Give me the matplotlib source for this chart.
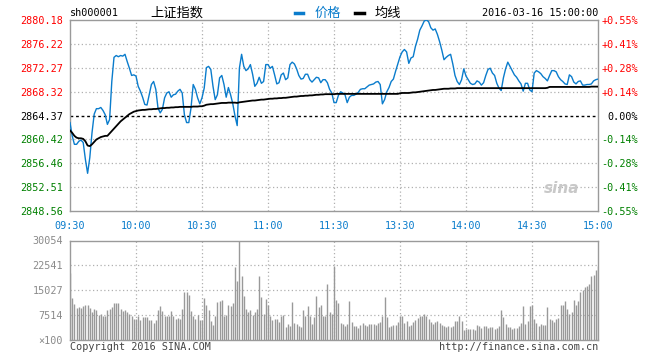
import matplotlib
matplotlib.use("Agg")
import matplotlib.pyplot as plt

# minute index 0..240 (09:30-11:30, 13:00-15:00)
price = [
    2863.2, 2861.0, 2859.6, 2859.6, 2860.1, 2860.3, 2859.9, 2857.1, 2854.8, 2857.4,
    2861.5, 2864.6, 2865.5, 2865.5, 2865.7, 2865.2, 2864.5, 2862.9, 2863.7, 2870.0,
    2874.0, 2874.3, 2874.1, 2874.3, 2874.2, 2874.5, 2873.3, 2872.2, 2871.0, 2871.1,
    2870.9, 2869.2, 2868.4, 2867.4, 2866.2, 2866.1, 2867.8, 2869.5, 2870.0, 2868.7,
    2865.6, 2864.8, 2865.4, 2867.3, 2868.1, 2868.3, 2867.4, 2867.8, 2867.9, 2868.4,
    2868.7, 2868.1, 2864.5, 2863.2, 2863.2, 2865.6, 2869.5, 2868.7, 2867.3, 2866.3,
    2867.3, 2868.9, 2872.3, 2872.5, 2872.0, 2869.2, 2867.0, 2867.8, 2870.6, 2871.0,
    2869.5, 2867.4, 2869.0, 2867.8, 2866.3, 2864.3, 2862.7, 2872.2, 2874.5, 2872.5,
    2871.8, 2872.1, 2872.8, 2871.2, 2869.2, 2869.7, 2870.7, 2869.7, 2870.0, 2872.8,
    2872.8, 2872.2, 2872.5, 2871.1, 2869.6, 2869.8, 2871.1, 2871.4, 2870.3, 2870.6,
    2872.8, 2873.2, 2872.9, 2872.1, 2871.0, 2870.4, 2870.5, 2871.2, 2871.2, 2870.3,
    2869.9, 2870.3, 2870.7, 2870.6, 2869.8, 2870.3, 2870.3, 2869.8, 2868.7, 2868.1,
    2866.5, 2866.5, 2867.7, 2868.3, 2868.1, 2867.8, 2866.5, 2867.4, 2867.7, 2867.7,
    2867.9, 2868.2, 2868.7, 2868.8, 2868.8, 2869.1, 2869.4, 2869.5, 2869.6, 2869.9,
    2870.0, 2869.5, 2866.3, 2867.0, 2868.3, 2869.0, 2870.0, 2870.4, 2871.7, 2872.9,
    2874.1, 2874.9, 2875.3, 2874.9, 2873.0, 2873.9, 2874.1, 2875.8, 2877.0, 2878.5,
    2879.2, 2880.0, 2880.2, 2879.9, 2878.9, 2878.5, 2878.7, 2877.8, 2876.6, 2875.2,
    2873.6, 2874.0, 2874.3, 2874.5, 2872.9, 2871.0, 2870.0, 2869.5, 2870.3, 2872.1,
    2870.9, 2870.3, 2869.7, 2869.5, 2869.6, 2870.1, 2869.9, 2869.4, 2869.8, 2871.0,
    2872.0, 2872.2, 2871.4, 2871.0, 2869.7, 2868.9, 2868.5, 2870.6, 2872.1, 2873.2,
    2872.5, 2871.8, 2871.1, 2870.7, 2870.1, 2869.6, 2868.4, 2869.7, 2869.7, 2868.6,
    2868.3, 2871.4, 2871.8, 2871.6, 2871.3, 2870.8, 2870.5, 2870.1, 2871.0, 2871.8,
    2871.8, 2871.6, 2870.8, 2870.3, 2870.0, 2869.6, 2869.5, 2871.1, 2870.8, 2869.9,
    2869.6, 2870.0, 2870.1, 2869.4, 2869.4, 2869.5, 2869.5, 2869.6, 2870.1, 2870.3,
    2870.4,
]

avg_price = [
    2861.9, 2861.5, 2861.0, 2860.7, 2860.6, 2860.6, 2860.5, 2860.1, 2859.4, 2859.3,
    2859.6, 2860.0, 2860.4, 2860.6, 2860.8, 2860.9, 2861.0, 2861.0, 2861.4, 2861.8,
    2862.2, 2862.6, 2863.0, 2863.4, 2863.7, 2864.0, 2864.3, 2864.6, 2864.8, 2865.0,
    2865.1, 2865.2, 2865.25, 2865.3, 2865.3, 2865.35, 2865.4, 2865.4, 2865.45, 2865.45,
    2865.5, 2865.55, 2865.6, 2865.6, 2865.65, 2865.65, 2865.7, 2865.7, 2865.75, 2865.75,
    2865.8, 2865.8, 2865.8, 2865.8, 2865.8, 2865.8, 2865.85, 2865.85, 2865.85, 2865.9,
    2865.9, 2866.0, 2866.15, 2866.2, 2866.25, 2866.25, 2866.3, 2866.35, 2866.4, 2866.45,
    2866.45, 2866.45, 2866.5, 2866.5, 2866.5, 2866.5, 2866.45, 2866.55, 2866.6, 2866.65,
    2866.7, 2866.75, 2866.8, 2866.85, 2866.85, 2866.9, 2866.95, 2867.0, 2867.0, 2867.05,
    2867.1, 2867.15, 2867.15, 2867.2, 2867.2, 2867.25, 2867.25, 2867.3, 2867.3, 2867.35,
    2867.4, 2867.45, 2867.5, 2867.5, 2867.55, 2867.6, 2867.6, 2867.65, 2867.65, 2867.7,
    2867.7, 2867.75, 2867.8, 2867.8, 2867.85, 2867.85, 2867.9, 2867.9, 2867.9, 2867.9,
    2867.9, 2867.95, 2867.95, 2867.95, 2867.95, 2867.95, 2867.95, 2867.95, 2867.95, 2867.95,
    2867.95, 2867.95, 2867.95, 2867.95, 2867.95, 2867.95, 2867.95, 2867.95, 2867.95, 2867.95,
    2867.95, 2867.95, 2867.95, 2867.95, 2867.95, 2867.95, 2867.95, 2867.95, 2867.95, 2867.95,
    2868.05, 2868.1, 2868.1, 2868.1, 2868.1, 2868.15, 2868.2, 2868.2, 2868.25, 2868.3,
    2868.35, 2868.4, 2868.45, 2868.5, 2868.55, 2868.6, 2868.6, 2868.65, 2868.7, 2868.75,
    2868.8, 2868.8, 2868.8, 2868.85, 2868.85, 2868.85, 2868.9, 2868.9, 2868.9, 2868.9,
    2868.9, 2868.9, 2868.9, 2868.9, 2868.9, 2868.9, 2868.9, 2868.9, 2868.9, 2868.9,
    2868.9, 2868.9, 2868.9, 2868.9, 2868.9, 2868.9, 2868.9, 2868.9, 2868.9, 2868.9,
    2868.9, 2868.9, 2868.9, 2868.9, 2868.9, 2868.9, 2868.9, 2868.9, 2868.9, 2868.9,
    2868.9, 2868.9, 2868.9, 2868.9, 2868.9, 2868.9, 2868.9, 2868.95, 2869.1, 2869.1,
    2869.1, 2869.1, 2869.1, 2869.1, 2869.1, 2869.1, 2869.1, 2869.1, 2869.1, 2869.1,
    2869.1, 2869.1, 2869.1, 2869.1, 2869.1, 2869.1, 2869.1, 2869.15, 2869.15, 2869.15,
    2869.15,
]

# volume in units of 100 shares
volume = [
    20200, 12700, 10900, 9700, 10000, 9700, 10200, 10500, 10500, 9700,
    8400, 9400, 9000, 7700, 7900, 7200, 7200, 9000, 9400, 10000,
    11200, 11200, 11200, 9400, 8700, 9000, 8400, 8000, 7200, 6400,
    6400, 7400, 6000, 7000, 7000, 7000, 6000, 6000, 5000, 6000,
    9000, 10200, 8700, 7200, 7200, 7200, 8700, 7400, 6400, 6700,
    6200, 9400, 14400, 14400, 13700, 8700, 7400, 6400, 7600, 6000,
    6000, 12700, 10500, 9000, 5700, 4500, 7200, 11400, 11700, 12000,
    7400, 7700, 10700, 10400, 11200, 22200, 17700, 30054, 19200, 13200,
    9400, 8400, 9000, 7700, 8400, 9400, 19200, 12900, 8000, 12400,
    10700, 7200, 6000, 6200, 6200, 5400, 7400, 7700, 4000, 4700,
    4200, 11400, 5000, 4700, 4200, 4000, 9000, 7400, 10400, 7400,
    4700, 7000, 13400, 10000, 10700, 7400, 7400, 17000, 8400, 8000,
    22400, 12000, 11200, 5000, 4700, 4200, 4700, 11700, 5400, 4200,
    4200, 3500, 4400, 5000, 4400, 4200, 4700, 4700, 4700, 4400,
    5000, 5400, 7200, 12900, 7000, 4000, 4200, 4400, 4400, 5400,
    7400, 7400, 5000, 5700, 4200, 4400, 5400, 6000, 6700, 7400,
    7400, 8000, 7200, 6200, 5400, 4700, 5400, 5700, 5000, 4400,
    4200, 4000, 4200, 4000, 4200, 5700, 5700, 7400, 5700, 3000,
    3200, 3200, 3200, 3400, 3000, 4400, 4200, 3700, 4200, 4200,
    3700, 4000, 4000, 3400, 3700, 4200, 9000, 7000, 4700, 4000,
    4000, 3400, 3700, 3700, 4200, 5000, 10200, 4700, 5700, 10200,
    10500, 6200, 5000, 4200, 4700, 4500, 4400, 9900, 6200, 6000,
    5400, 6200, 6700, 10500, 10500, 11700, 9400, 8000, 8400, 12000,
    10500, 11700, 14400, 15200, 16000, 16400, 17000, 19200, 19500, 21000,
    22400,
]

time_pos = [0, 30, 60, 90, 120, 150, 180, 210, 240]
time_labels = ["09:30", "10:00", "10:30", "11:00", "11:30", "13:30", "14:00", "14:30", "15:00"]
price_ticks = [2848.56, 2852.51, 2856.46, 2860.42, 2864.37, 2868.32, 2872.27, 2876.22, 2880.18]
pct_labels = ["-0.55%", "-0.41%", "-0.28%", "-0.14%", "0.00%", "+0.14%", "+0.28%", "+0.41%", "+0.55%"]
vol_ticks = [0, 7514, 15027, 22541, 30054]
vol_labels = ["×100", "7514", "15027", "22541", "30054"]
prev_close = 2864.37

BLUE = "#0a7ccc"
GRID = "#b0b0b0"
SPINE = "#9a9a9a"
RED = "#ff0000"
GREEN = "#008000"
mono = "DejaVu Sans Mono"
fs = 7.3

fig = plt.figure(figsize=(6.6, 3.6), dpi=100)
fig.patch.set_facecolor("white")

ax = fig.add_axes([70 / 660, 1 - 211 / 360, 528 / 660, 191 / 360])
x = list(range(len(price)))
ax.plot(x, price, color=BLUE, lw=1.0, zorder=3)
ax.plot(x, avg_price, color="black", lw=1.3, zorder=4)
ax.axhline(prev_close, color="black", lw=1.0, ls=(0, (2, 2)), zorder=2)
ax.set_xlim(0, 240)
ax.set_ylim(price_ticks[0], price_ticks[-1])
for p in price_ticks[1:-1]:
    if p != prev_close:
        ax.axhline(p, color=GRID, lw=0.9, ls=(0, (1, 2)), zorder=1)
for t in time_pos[1:-1]:
    ax.axvline(t, color=GRID, lw=0.9, ls=(0, (1, 2)), zorder=1)

ax.set_yticks(price_ticks)
ax.set_yticklabels([f"{p:.2f}" for p in price_ticks], fontfamily=mono, fontsize=fs)
for lab, p in zip(ax.get_yticklabels(), price_ticks):
    lab.set_color(RED if p > prev_close else (GREEN if p < prev_close else "black"))
ax.set_xticks(time_pos)
ax.set_xticklabels(time_labels, fontfamily=mono, fontsize=fs, color=BLUE)
ax.tick_params(length=0, pad=5)
ax.tick_params(axis="x", pad=7)
for s in ax.spines.values():
    s.set_color(SPINE)
    s.set_linewidth(1.0)

ax2 = ax.twinx()
ax2.set_ylim(ax.get_ylim())
ax2.set_yticks(price_ticks)
ax2.set_yticklabels(pct_labels, fontfamily=mono, fontsize=fs)
for lab, p in zip(ax2.get_yticklabels(), price_ticks):
    lab.set_color(RED if p > prev_close else (GREEN if p < prev_close else "black"))
    lab.set_horizontalalignment("right")
ax2.tick_params(length=0, pad=29)
for s in ax2.spines.values():
    s.set_visible(False)

ax.text(0.965, 0.08, "sina", transform=ax.transAxes, ha="right", va="bottom",
        fontsize=11, fontstyle="italic", fontweight="bold", color="#c8c8c8")

# volume panel
axv = fig.add_axes([70 / 660, 1 - 340 / 360, 528 / 660, 99.5 / 360])
axv.vlines(x, 0, volume, color="#999999", lw=1.0)
axv.set_xlim(0, 240)
axv.set_ylim(0, vol_ticks[-1])
for v in vol_ticks[1:-1]:
    axv.axhline(v, color=GRID, lw=0.9, ls=(0, (1, 2)), zorder=0)
for t in time_pos[1:-1]:
    axv.axvline(t, color=GRID, lw=0.9, ls=(0, (1, 2)), zorder=0)
axv.set_yticks(vol_ticks)
axv.set_yticklabels(vol_labels, fontfamily=mono, fontsize=fs, color="#8a8a8a")
axv.set_xticks([])
axv.tick_params(length=0, pad=5)
for s in axv.spines.values():
    s.set_color(SPINE)
    s.set_linewidth(1.0)

# header
fig.text(70 / 660, 1 - 13 / 360, "sh000001", fontfamily=mono, fontsize=fs, va="center", ha="left")
fig.text(150 / 660, 1 - 13 / 360, "上证指数", fontfamily=["Noto Sans CJK SC", "DejaVu Sans"],
         fontsize=9.5, va="center", ha="left")
fig.add_artist(plt.Line2D([295 / 660, 303 / 660], [1 - 12.5 / 360] * 2, color=BLUE, lw=2.5))
fig.text(315 / 660, 1 - 13 / 360, "价格", fontfamily=["Noto Sans CJK SC", "DejaVu Sans"],
         fontsize=9.5, va="center", ha="left", color=BLUE)
fig.add_artist(plt.Line2D([355 / 660, 364 / 660], [1 - 12.5 / 360] * 2, color="black", lw=2.5))
fig.text(375 / 660, 1 - 13 / 360, "均线", fontfamily=["Noto Sans CJK SC", "DejaVu Sans"],
         fontsize=9.5, va="center", ha="left")
fig.text(598 / 660, 1 - 13 / 360, "2016-03-16 15:00:00", fontfamily=mono, fontsize=fs,
         va="center", ha="right")

# footer
fig.text(70 / 660, 1 - 347 / 360, "Copyright 2016 SINA.COM", fontfamily=mono, fontsize=fs,
         va="center", ha="left", color="#444444")
fig.text(598 / 660, 1 - 347 / 360, "http://finance.sina.com.cn", fontfamily=mono, fontsize=fs,
         va="center", ha="right", color="#444444")

fig.savefig("out.png", dpi=100)
